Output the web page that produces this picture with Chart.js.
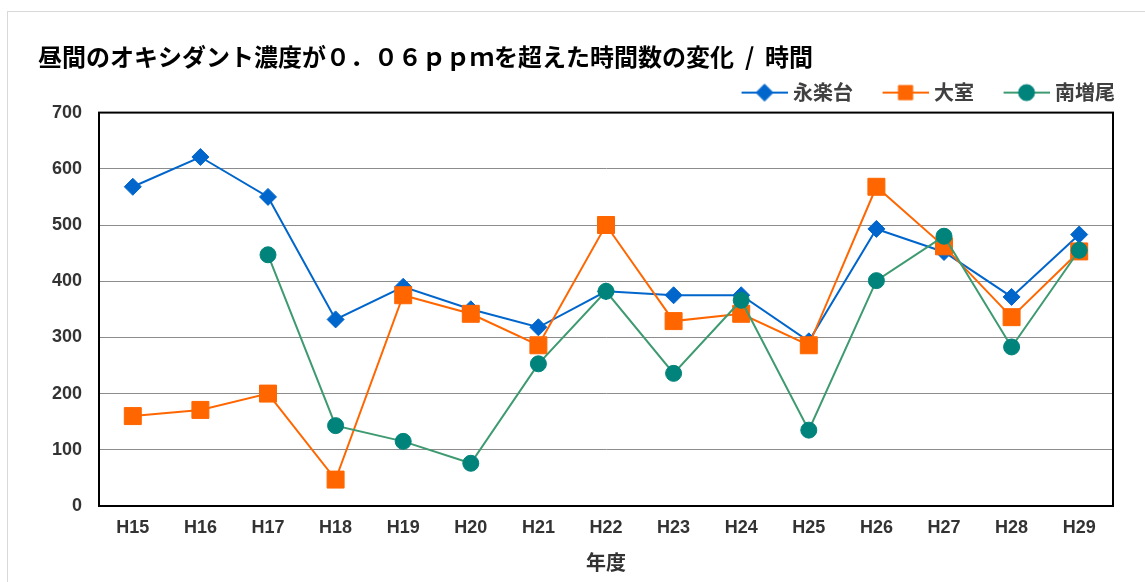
<!DOCTYPE html>
<html lang="ja">
<head>
<meta charset="utf-8">
<title>昼間のオキシダント濃度</title>
<script src="https://cdn.jsdelivr.net/npm/chart.js@4.4.1/dist/chart.umd.min.js"></script>
<style>
  html, body { margin: 0; padding: 0; background: #fff; }
  .wrap { position: relative; width: 1145px; height: 582px; overflow: hidden; }
  .frame {
    position: absolute; left: 7px; top: 11px; right: -2px; bottom: -2px;
    border-left: 1px solid #d9d9d9; border-top: 1px solid #d9d9d9;
  }
  canvas { position: absolute; left: 0; top: 0; }
</style>
</head>
<body>
<div class="wrap">
  <div class="frame"></div>
  <canvas id="myChart" width="1145" height="582"></canvas>
</div>
<script>
// 年度
const years = ["H15", "H16", "H17", "H18", "H19", "H20", "H21", "H22", "H23", "H24", "H25", "H26", "H27", "H28", "H29"];
// 時間数
const eirakudai = [568, 621, 550, 332, 390, 350, 318, 382, 375, 375, 293, 493, 452, 372, 483];
const omuro = [160, 171, 200, 47, 375, 342, 286, 500, 329, 342, 286, 568, 462, 336, 453];
const minamimasuo = [null, null, 447, 143, 115, 76, 253, 382, 236, 366, 135, 401, 480, 283, 455];
const yTicks = [0, 100, 200, 300, 400, 500, 600, 700];

const cjk = "'Noto Sans CJK JP', 'Noto Sans', sans-serif";
const latin = "'Liberation Sans', Arial, sans-serif";

const series = [
  { label: "永楽台", data: eirakudai, line: "#0066cc", fill: "#0066cc", style: "rectRot", radius: 8.5, order: 3 },
  { label: "大室", data: omuro, line: "#ff6600", fill: "#ff6600", style: "rect", radius: 12, order: 2 },
  { label: "南増尾", data: minamimasuo, line: "#3e9a70", fill: "#00837b", style: "circle", radius: 8, order: 1 },
];

// legend sample: line with the marker in the middle
function legendImage(s) {
  const c = document.createElement("canvas");
  c.width = 70;
  c.height = 24;
  const ctx = c.getContext("2d");
  ctx.strokeStyle = s.line;
  ctx.lineWidth = 2;
  ctx.beginPath();
  ctx.moveTo(24, 12);
  ctx.lineTo(70, 12);
  ctx.stroke();
  ctx.fillStyle = s.fill;
  ctx.strokeStyle = s.fill;
  ctx.lineWidth = 1;
  Chart.helpers.drawPoint(ctx, {
    pointStyle: s.style,
    radius: s.style === "rect" ? 10 : s.radius,
    rotation: 0,
    borderWidth: 1,
  }, 47, 12);
  return c;
}
const legendImgs = series.map(legendImage);

const frameBox = {
  id: "frameBox",
  beforeDatasetsDraw(chart) {
    const { ctx, chartArea: a } = chart;
    ctx.save();
    ctx.strokeStyle = "#000";
    ctx.lineWidth = 2;
    ctx.strokeRect(a.left, a.top, a.right - a.left, a.bottom - a.top);
    ctx.restore();
  }
};

const config = {
  type: "line",
  data: {
    labels: years,
    datasets: series.map(s => ({
      label: s.label,
      data: s.data,
      order: s.order,
      borderColor: s.line,
      borderWidth: 2,
      backgroundColor: s.fill,
      pointBackgroundColor: s.fill,
      pointBorderColor: s.fill,
      pointBorderWidth: 1,
      pointStyle: s.style,
      pointRadius: s.radius,
      pointHoverRadius: s.radius,
      tension: 0,
      spanGaps: false,
    })),
  },
  options: {
    responsive: false,
    animation: false,
    layout: { padding: { left: 38, right: 20, top: 0, bottom: 0 } },
    plugins: {
      tooltip: { enabled: false },
      title: {
        display: true,
        text: "昼間のオキシダント濃度が０．０６ｐｐｍを超えた時間数の変化  /  時間",
        align: "start",
        color: "#000",
        font: { family: cjk, size: 24, weight: "bold" },
        padding: { top: 42.6, bottom: 1.2 },
      },
      legend: {
        position: "top",
        align: "end",
        labels: {
          usePointStyle: true,
          pointStyleWidth: 61,
          padding: 10,
          color: "#404040",
          font: { family: cjk, size: 20, weight: "bold" },
          sort: (a, b) => a.datasetIndex - b.datasetIndex,
          generateLabels(chart) {
            const items = Chart.defaults.plugins.legend.labels.generateLabels(chart);
            items.forEach(it => { it.pointStyle = legendImgs[it.datasetIndex]; });
            return items;
          },
        },
      },
    },
    scales: {
      x: {
        type: "category",
        offset: true,
        grid: { display: false, drawTicks: false },
        border: { display: true, color: "#000", width: 2 },
        ticks: { color: "#333", padding: 11, font: { family: latin, size: 18, weight: "bold" } },
        title: {
          display: true,
          text: "年度",
          color: "#333",
          font: { family: cjk, size: 20, weight: "bold" },
          padding: { top: 0, bottom: 8 },
        },
        afterFit(scale) { scale.height = 76; },
      },
      y: {
        min: 0,
        max: 700,
        afterBuildTicks(scale) { scale.ticks = yTicks.map(v => ({ value: v })); },
        grid: { color: "#8c8c8c", lineWidth: 1, drawTicks: false },
        border: { display: true, color: "#000", width: 2 },
        ticks: { color: "#333", padding: 17, font: { family: latin, size: 18, weight: "bold" } },
        afterFit(scale) { scale.width = 61; },
      },
      y2: {
        position: "right",
        display: true,
        min: 0,
        max: 700,
        grid: { display: false, drawTicks: false },
        border: { display: false },
        ticks: { display: false },
        afterFit(scale) { scale.width = 12; },
      },
    },
  },
  plugins: [frameBox],
};

new Chart(document.getElementById("myChart"), config);
</script>
</body>
</html>
